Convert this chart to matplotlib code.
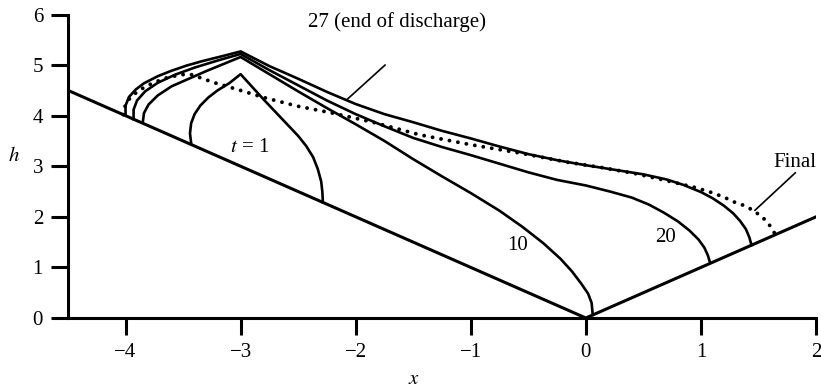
import numpy as np
import matplotlib
matplotlib.use('Agg')
import matplotlib.pyplot as plt

plt.rcParams['font.family'] = ['Liberation Serif', 'DejaVu Serif']
plt.rcParams['mathtext.fontset'] = 'stix'

# ground profile
ground_x = [-4.5, 0.0, 2.0]
ground_h = [4.5, 0.0, 2.0]

# free-surface profiles
t1_x = [-3.43, -3.44, -3.43, -3.40, -3.35, -3.28, -3.20, -3.10, -3.00,
        -2.90, -2.80, -2.70, -2.60, -2.50, -2.43, -2.37, -2.33, -2.30, -2.29, -2.285]
t1_h = [3.46, 3.65, 3.85, 4.03, 4.20, 4.36, 4.50, 4.64, 4.82,
        4.57, 4.32, 4.08, 3.84, 3.60, 3.40, 3.18, 2.95, 2.70, 2.50, 2.29]

t10_x = [-3.85, -3.84, -3.80, -3.72, -3.60, -3.45, -3.30, -3.15, -3.00,
         -2.75, -2.50, -2.25, -2.00, -1.75, -1.50, -1.25, -1.00, -0.75, -0.55,
         -0.37, -0.22, -0.12, -0.04, 0.02, 0.05, 0.06]
t10_h = [3.87, 4.05, 4.22, 4.40, 4.58, 4.73, 4.88, 5.02, 5.16,
         4.82, 4.48, 4.15, 3.83, 3.50, 3.14, 2.80, 2.47, 2.12, 1.80,
         1.48, 1.17, 0.92, 0.68, 0.48, 0.30, 0.06]

t20_x = [-3.93, -3.93, -3.90, -3.83, -3.72, -3.57, -3.40, -3.20, -3.00,
         -2.75, -2.50, -2.25, -2.00, -1.75, -1.50, -1.25, -1.00, -0.75, -0.50,
         -0.25, 0.00, 0.21, 0.40, 0.55, 0.68, 0.80, 0.90, 0.98, 1.03, 1.06, 1.08]
t20_h = [3.93, 4.12, 4.30, 4.48, 4.65, 4.81, 4.95, 5.09, 5.22,
         4.90, 4.60, 4.30, 4.03, 3.79, 3.56, 3.38, 3.22, 3.05, 2.88,
         2.73, 2.62, 2.50, 2.38, 2.24, 2.08, 1.91, 1.73, 1.55, 1.39, 1.24, 1.09]

t27_x = [-4.00, -4.00, -3.97, -3.91, -3.84, -3.72, -3.61, -3.47, -3.33, -3.17, -3.00,
         -2.75, -2.50, -2.25, -2.00, -1.75, -1.50, -1.25, -1.00, -0.75, -0.50,
         -0.25, 0.00, 0.25, 0.50, 0.70, 0.85, 1.00, 1.10, 1.20, 1.28, 1.34, 1.39, 1.42, 1.44]
t27_h = [4.01, 4.20, 4.37, 4.52, 4.64, 4.78, 4.88, 4.99, 5.08, 5.17, 5.27,
         4.98, 4.73, 4.47, 4.23, 4.03, 3.87, 3.70, 3.55, 3.39, 3.24,
         3.12, 3.02, 2.93, 2.84, 2.74, 2.63, 2.49, 2.37, 2.22, 2.07, 1.92, 1.76, 1.60, 1.44]

final_x = [-4.02, -4.01, -3.99, -3.94, -3.86, -3.76, -3.64, -3.52, -3.44, -3.35, -3.24,
           -3.06, -2.80, -2.51, -2.22, -1.85, -1.44, -1.01, -0.57, -0.16, 0.15, 0.44,
           0.73, 0.95, 1.08, 1.20, 1.28, 1.38, 1.46, 1.54, 1.59, 1.62, 1.65]
final_h = [4.02, 4.15, 4.27, 4.40, 4.53, 4.65, 4.75, 4.81, 4.82, 4.75, 4.66,
           4.54, 4.36, 4.19, 4.06, 3.87, 3.62, 3.43, 3.26, 3.08, 2.97, 2.85,
           2.70, 2.58, 2.49, 2.39, 2.30, 2.22, 2.12, 1.98, 1.86, 1.74, 1.65]

fig = plt.figure(figsize=(8.21, 3.88), dpi=100)
ax = fig.add_axes([68/821, 70/388, (816-68)/821, (318-14.5)/388])

ax.plot(ground_x, ground_h, color='black', lw=2.2, solid_joinstyle='miter')
for xs, hs in [(t1_x, t1_h), (t10_x, t10_h), (t20_x, t20_h), (t27_x, t27_h)]:
    ax.plot(xs, hs, color='black', lw=1.9, solid_joinstyle='round')
ax.plot(final_x, final_h, color='black', lw=2.8, linestyle=(0, (0.01, 2.2)),
        dash_capstyle='round')

fs = 15
ax.text(-2.92, 3.38, '$t$ = 1', fontsize=fs, ha='center', va='center')
ax.text(-0.59, 1.44, '10', fontsize=fs, ha='center', va='center')
ax.text(0.69, 1.60, '20', fontsize=fs, ha='center', va='center')
ax.text(-1.64, 5.85, '27 (end of discharge)', fontsize=fs, ha='center', va='center')
ax.plot([-1.745, -2.08], [5.0, 4.31], color='black', lw=1.2)
ax.text(1.82, 3.08, 'Final', fontsize=fs, ha='center', va='center')
ax.plot([1.82, 1.47], [2.87, 2.13], color='black', lw=1.2)

ax.set_xlim(-4.5, 2)
ax.set_ylim(0, 6)
ax.set_xticks([-4, -3, -2, -1, 0, 1, 2])
ax.set_yticks([0, 1, 2, 3, 4, 5, 6])
ax.spines['top'].set_visible(False)
ax.spines['right'].set_visible(False)
for s in ['left', 'bottom']:
    ax.spines[s].set_linewidth(2.2)
ax.tick_params(direction='out', length=12, width=2.2, labelsize=fs, pad=6)

ax.set_xlabel('$x$', fontsize=fs)
ax.xaxis.set_label_coords((414-68)/(816-68), -0.17)
ax.set_ylabel('$h$', fontsize=fs, rotation=0)
ax.yaxis.set_label_coords(-0.072, 0.5)

fig.savefig('out.png', dpi=100)
